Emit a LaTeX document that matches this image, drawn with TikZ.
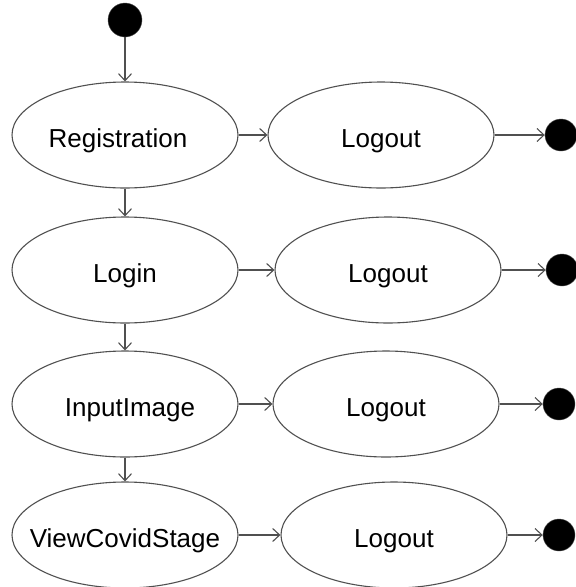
\documentclass[tikz,border=0pt]{standalone}
\usepackage{fontspec}
\setmainfont{Liberation Sans}
\usetikzlibrary{shapes.geometric,arrows.meta}
\definecolor{linegray}{RGB}{80,80,80}
\tikzset{
  state/.style={ellipse, draw=linegray, line width=1.1pt, minimum width=226pt, minimum height=106pt, inner sep=0pt},
  every label/.style={font=\fontsize{26}{30}\selectfont, text height=18.6pt, text depth=0pt, inner sep=0pt, yshift=-3pt},
  dot/.style={circle, fill=black, draw=linegray, inner sep=0pt, minimum size=32pt},
  arr/.style={draw=linegray, line width=1.1pt, -{Straight Barb[length=7pt,width=13pt]}}
}
\begin{document}
\begin{tikzpicture}[x=1pt, y=-1pt]
            \useasboundingbox (0,0) rectangle (576,587);
            % Initial state
            \node[dot, minimum size=34pt] (start) at (125,20) {};
            % States
            \node[state, label={[xshift=-7pt]center:Registration}] (registration) at (125,135) {};
            \node[state, label=center:Login] (login) at (125,270) {};
            \node[state, label={[xshift=5pt]center:InputImage}] (inputimage) at (125,404) {};
            \node[state, label=center:ViewCovidStage] (viewstage) at (125,535) {};
            % Logout states and final states
            \foreach \n/\x/\y/\ex in {1/381/135/561, 2/388/270/562, 3/386/404/559, 4/394/535/559} {
                \node[state, label=center:Logout] (logout\n) at (\x,\y) {};
                \node[dot] (end\n) at (\ex,\y) {};
            }
            % Transitions
            \foreach \a/\b in {start/registration, registration/login, login/inputimage, inputimage/viewstage}
                \draw[arr] (\a) -- (\b);
            \foreach \a/\n in {registration/1, login/2, inputimage/3, viewstage/4} {
                \draw[arr] (\a) -- (logout\n);
                \draw[arr] (logout\n) -- (end\n);
            }
        \end{tikzpicture}
\end{document}
